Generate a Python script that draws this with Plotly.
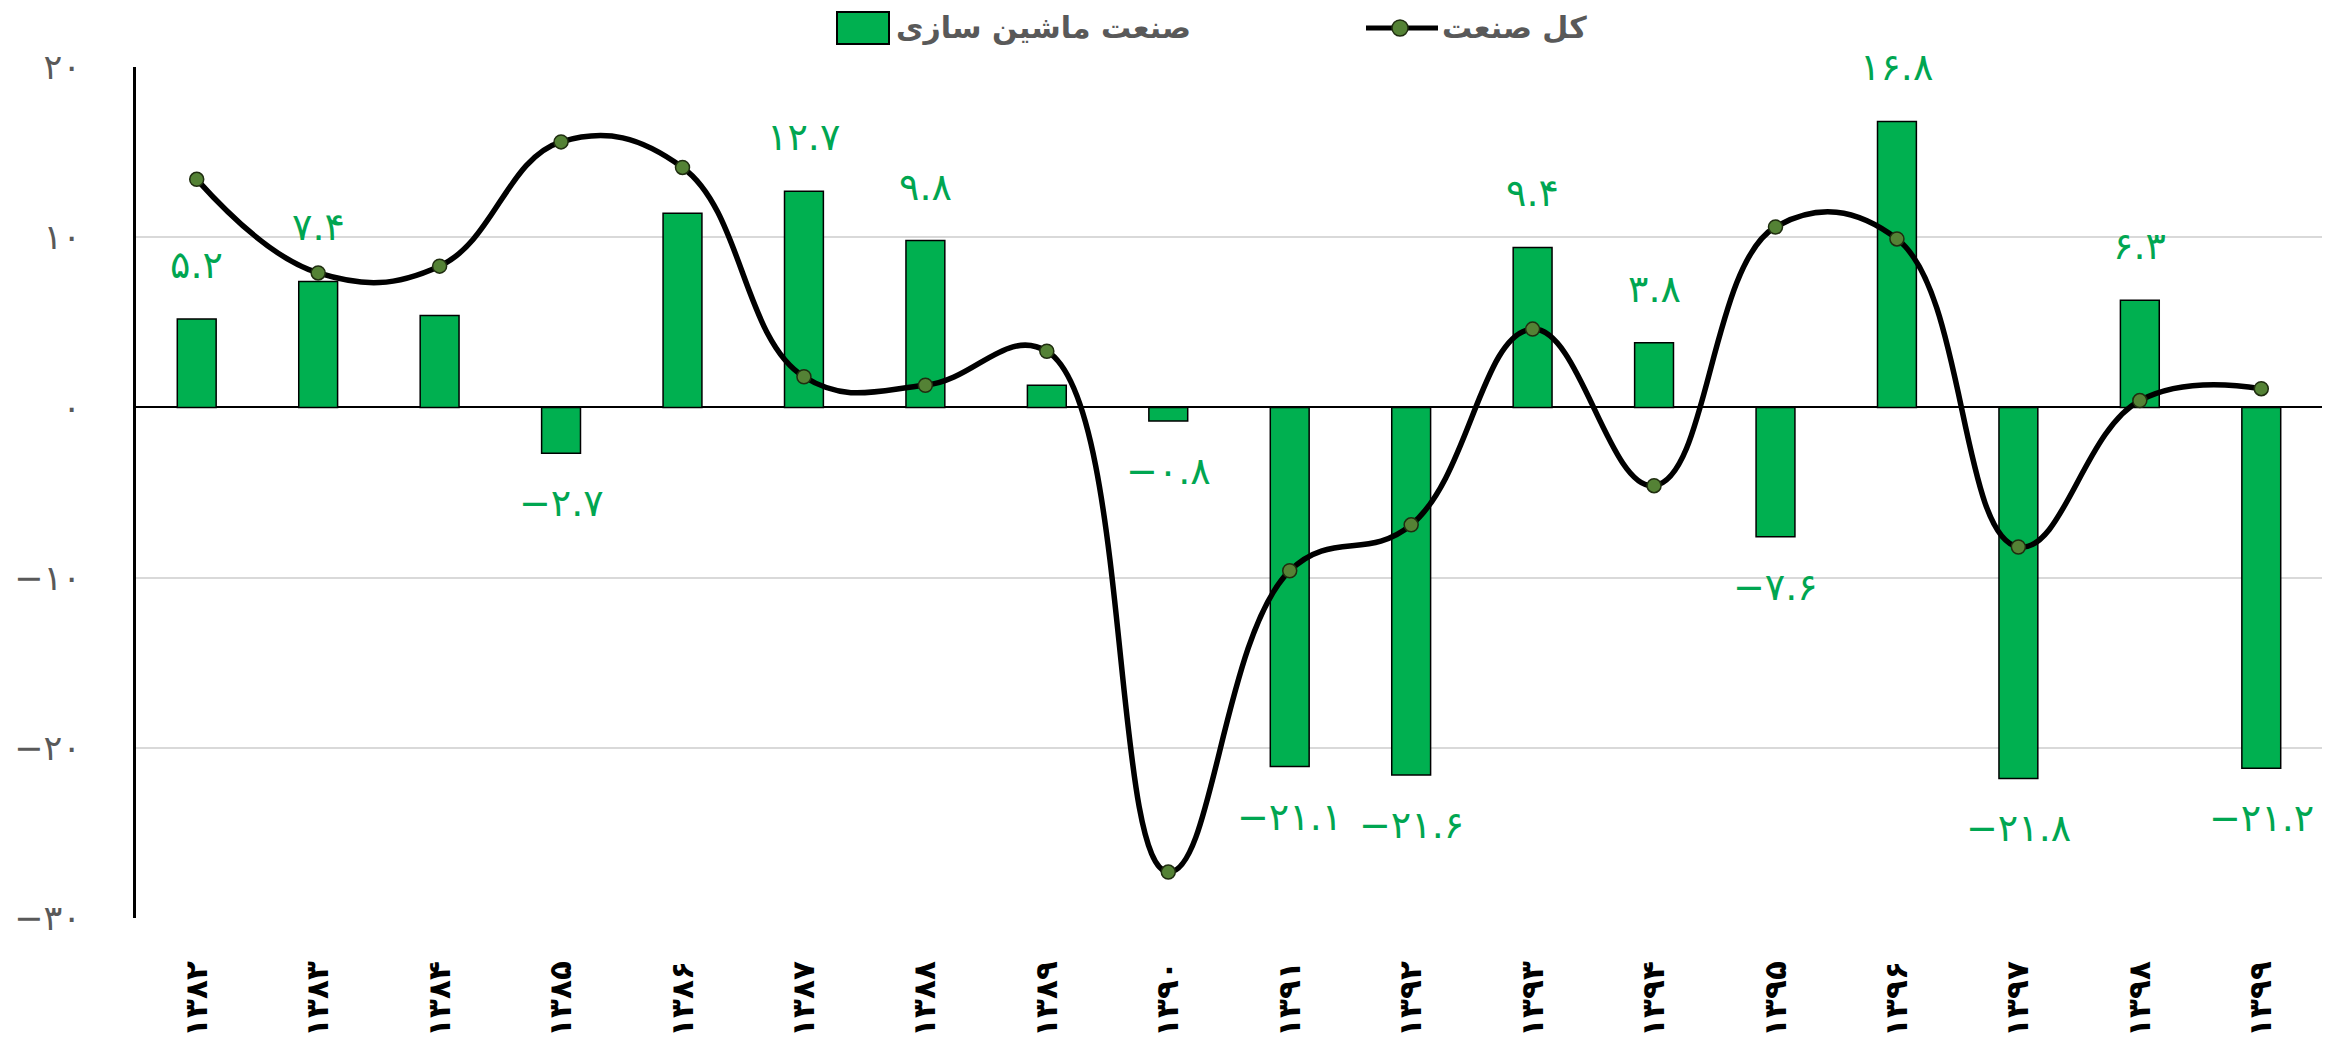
import plotly.graph_objects as go

# ---------------- data ----------------
years = ["۱۳۸۲", "۱۳۸۳", "۱۳۸۴", "۱۳۸۵", "۱۳۸۶", "۱۳۸۷", "۱۳۸۸", "۱۳۸۹", "۱۳۹۰",
         "۱۳۹۱", "۱۳۹۲", "۱۳۹۳", "۱۳۹۴", "۱۳۹۵", "۱۳۹۶", "۱۳۹۷", "۱۳۹۸", "۱۳۹۹"]
auto_industry = [5.2, 7.4, 5.4, -2.7, 11.4, 12.7, 9.8, 1.3, -0.8,
                 -21.1, -21.6, 9.4, 3.8, -7.6, 16.8, -21.8, 6.3, -21.2]
label_shown = [True, True, False, True, False, True, True, False, True,
               True, True, True, True, True, True, True, True, True]
total_industry = [13.4, 7.9, 8.3, 15.6, 14.1, 1.8, 1.3, 3.3, -27.3,
                  -9.6, -6.9, 4.6, -4.6, 10.6, 9.9, -8.2, 0.4, 1.1]
y_ticks = [-30, -20, -10, 0, 10, 20]
name_bar = "صنعت ماشین سازی"
name_line = "کل صنعت"

# ---------------- helpers ----------------
_tr = str.maketrans("0123456789-", "۰۱۲۳۴۵۶۷۸۹−")


def fa(s):
    return str(s).translate(_tr)


GREEN = "#00B050"
LABEL_GREEN = "#00A651"
GREY = "#595959"
FONT = "DejaVu Sans"

# figure is drawn inside the page body (8px default body margin)
OFF = 8
W, H = 2341 - OFF, 1042 - OFF
ML, MR, MT, MB = 136 - OFF, 19, 67 - OFF, 124
PW, PH = W - ML - MR, H - MT - MB


def px2paper_x(px):
    return (px - OFF - ML) / PW


def px2paper_y(py):
    return (H - MB - (py - OFF)) / PH


fig = go.Figure()

fig.add_trace(go.Bar(
    x=years, y=auto_industry, name=name_bar, width=0.32,
    marker=dict(color=GREEN, line=dict(color="black", width=1.5)),
    showlegend=False,
))

fig.add_trace(go.Scatter(
    x=years, y=total_industry, name=name_line, mode="lines+markers",
    line=dict(color="black", width=5.5, shape="spline", smoothing=1.2),
    marker=dict(color="#548235", size=14, line=dict(color="#1F2D10", width=1.5)),
    showlegend=False,
))

# data labels for bars
for cat, v, show in zip(years, auto_industry, label_shown):
    if not show:
        continue
    fig.add_annotation(
        x=cat, y=v, text=fa(f"{v:.1f}"), showarrow=False,
        yshift=54 if v >= 0 else -50,
        font=dict(family=FONT, size=38, color=LABEL_GREEN),
        xanchor="center", yanchor="middle",
    )

# custom RTL legend
leg_y = px2paper_y(28)
fig.add_shape(type="rect", xref="paper", yref="paper", xsizemode="pixel", ysizemode="pixel",
              xanchor=px2paper_x(863), yanchor=leg_y, x0=-26, x1=26, y0=-16, y1=16,
              fillcolor=GREEN, line=dict(color="black", width=2))
fig.add_annotation(xref="paper", yref="paper", x=px2paper_x(894), y=leg_y, text=f"<b>{name_bar}</b>",
                   showarrow=False, xanchor="left", yanchor="middle",
                   font=dict(family=FONT, size=30, color=GREY))
fig.add_shape(type="line", xref="paper", yref="paper", xsizemode="pixel", ysizemode="pixel",
              xanchor=px2paper_x(1402), yanchor=leg_y, x0=-36, x1=36, y0=0, y1=0,
              line=dict(color="black", width=5))
fig.add_shape(type="circle", xref="paper", yref="paper", xsizemode="pixel", ysizemode="pixel",
              xanchor=px2paper_x(1400), yanchor=leg_y, x0=-8, x1=8, y0=-8, y1=8,
              fillcolor="#548235", line=dict(color="#1F2D10", width=1.5))
fig.add_annotation(xref="paper", yref="paper", x=px2paper_x(1440), y=leg_y, text=f"<b>{name_line}</b>",
                   showarrow=False, xanchor="left", yanchor="middle",
                   font=dict(family=FONT, size=30, color=GREY))

fig.update_layout(
    width=W, height=H,
    margin=dict(l=ML, r=MR, t=MT, b=MB, autoexpand=False),
    paper_bgcolor="white", plot_bgcolor="white",
    font=dict(family=FONT),
    bargap=0.68,
)

fig.update_xaxes(
    type="category", range=[-0.5, len(years) - 0.5], automargin=False,
    tickangle=-90, showgrid=False, zeroline=False, showline=False,
    ticks="", ticklabelstandoff=36,
    tickfont=dict(family=FONT, size=31, color="black", weight="bold"),
)

fig.update_yaxes(
    range=[-30, 20], automargin=False, tickvals=y_ticks, ticktext=[fa(t) for t in y_ticks],
    showgrid=True, gridcolor="#D9D9D9", gridwidth=2,
    zeroline=True, zerolinecolor="black", zerolinewidth=2,
    showline=True, linecolor="black", linewidth=3,
    ticks="", ticklabelstandoff=45,
    tickfont=dict(family=FONT, size=35, color=GREY),
)

fig.write_html("out.html")
